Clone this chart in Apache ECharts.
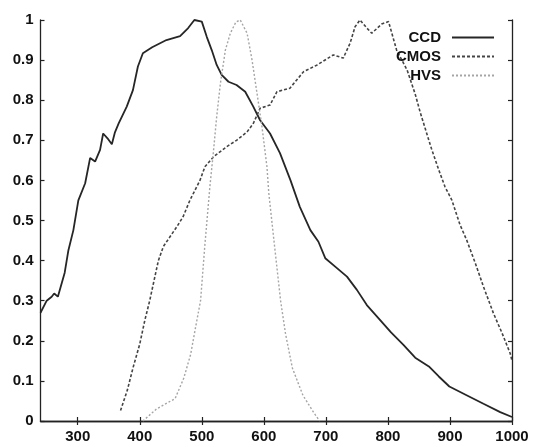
<!DOCTYPE html>
<html>
<head>
    <meta charset="UTF-8">
    <title>CCD CMOS HVS</title>
    <script src="https://cdn.jsdelivr.net/npm/echarts@6.0.0/dist/echarts.min.js"></script>
    <style>
        html, body { margin: 0; padding: 0; background: #fff; }
    </style>
</head>
<body>
<div id="main" style="width:533px;height:447px;"></div>
<script>
// wavelength (nm) / response readings
var ccdX = [240,250,258,262,268,279,285,293,301,312,320,328,336,341,348,355,360,366,379,389,397,405,420,443,465,478,488,500,508,516,524,532,543,556,570,583,594,610,626,643,658,675,688,699,715,734,750,766,785,805,825,844,866,882,899,926,954,981,1000];
var ccdY = [0.27,0.30,0.31,0.318,0.31,0.37,0.426,0.476,0.55,0.593,0.656,0.647,0.676,0.717,0.705,0.69,0.72,0.742,0.784,0.825,0.884,0.917,0.932,0.95,0.96,0.98,1.0,0.996,0.958,0.925,0.888,0.863,0.846,0.838,0.821,0.784,0.75,0.717,0.668,0.60,0.534,0.476,0.447,0.406,0.385,0.36,0.327,0.289,0.256,0.221,0.19,0.158,0.136,0.111,0.086,0.065,0.043,0.022,0.01];

var cmosX = [369,380,389,400,408,416,422,430,438,449,460,470,481,497,505,519,540,556,573,583,594,610,621,642,664,686,712,728,739,747,755,766,774,790,801,814,831,844,852,860,870,882,892,903,916,927,941,954,970,984,997,1000];
var cmosY = [0.026,0.077,0.132,0.192,0.25,0.30,0.343,0.40,0.435,0.46,0.485,0.51,0.551,0.60,0.634,0.659,0.684,0.70,0.721,0.742,0.78,0.788,0.821,0.83,0.871,0.888,0.913,0.905,0.942,0.983,1.0,0.98,0.967,0.99,0.996,0.925,0.875,0.815,0.77,0.73,0.68,0.626,0.584,0.551,0.49,0.451,0.393,0.335,0.269,0.219,0.169,0.15];

var hvsX = [405,427,457,471,482,490,498,505,513,519,524,530,538,546,555,562,573,581,589,597,605,608,617,627,635,646,663,680,690];
var hvsY = [0,0.03,0.056,0.107,0.166,0.234,0.30,0.44,0.584,0.676,0.759,0.842,0.925,0.967,0.995,1.0,0.967,0.90,0.817,0.734,0.634,0.568,0.44,0.30,0.217,0.132,0.064,0.022,0];

var xTicks = [300,400,500,600,700,800,900,1000];
var yTicks = [0,0.1,0.2,0.3,0.4,0.5,0.6,0.7,0.8,0.9,1];

function zip(xs, ys){
    var out = [];
    for (var i = 0; i < xs.length; i++) {
        out.push([xs[i], ys[i]]);
    }
    return out;
}

var chart = echarts.init(document.getElementById('main'));

var labelFont = {
    color: '#111',
    fontFamily: 'Liberation Sans, Arial, sans-serif',
    fontWeight: 'bold',
    fontSize: 15
};
var frameLine = { show: true, lineStyle: { color: '#222', width: 1.3 } };
var innerTick = { show: true, inside: true, length: 4, lineStyle: { color: '#222', width: 1.2 } };
var xTick = { show: true, inside: true, length: 4, customValues: xTicks, lineStyle: { color: '#222', width: 1.2 } };

chart.setOption({
    backgroundColor: '#fff',
    animation: false,
    grid: {
        left: 40.5,
        right: 21,
        top: 20,
        bottom: 26
    },
    legend: {
        orient: 'vertical',
        right: 38,
        top: 30,
        padding: 0,
        align: 'right',
        itemWidth: 42,
        itemHeight: 12,
        itemGap: 4,
        itemStyle: { opacity: 0 },
        textStyle: {
            color: '#111',
            fontFamily: 'Liberation Sans, Arial, sans-serif',
            fontWeight: 'bold',
            fontSize: 15,
            lineHeight: 14,
            padding: [0, 6, 0, 0]
        },
        data: ['CCD', 'CMOS', 'HVS']
    },
    xAxis: [
        {
            type: 'value',
            min: 240,
            max: 1000,
            axisLine: frameLine,
            axisTick: xTick,
            splitLine: { show: false },
            axisLabel: {
                margin: 8,
                customValues: xTicks,
                color: labelFont.color,
                fontFamily: labelFont.fontFamily,
                fontWeight: labelFont.fontWeight,
                fontSize: labelFont.fontSize,
                formatter: function (v) { return String(v); }
            }
        },
        {
            type: 'value',
            position: 'top',
            min: 240,
            max: 1000,
            axisLine: frameLine,
            axisTick: xTick,
            splitLine: { show: false },
            axisLabel: { show: false }
        }
    ],
    yAxis: [
        {
            type: 'value',
            min: 0,
            max: 1,
            interval: 0.1,
            axisLine: frameLine,
            axisTick: innerTick,
            splitLine: { show: false },
            axisLabel: {
                margin: 7,
                customValues: yTicks,
                color: labelFont.color,
                fontFamily: labelFont.fontFamily,
                fontWeight: labelFont.fontWeight,
                fontSize: labelFont.fontSize,
                formatter: function (v) {
                    return String(Math.round(v * 10) / 10);
                }
            }
        },
        {
            type: 'value',
            position: 'right',
            min: 0,
            max: 1,
            interval: 0.1,
            axisLine: frameLine,
            axisTick: innerTick,
            splitLine: { show: false },
            axisLabel: { show: false }
        }
    ],
    series: [
        {
            name: 'CCD',
            type: 'line',
            symbol: 'none',
            color: '#262626',
            lineStyle: { color: '#262626', width: 1.8 },
            data: zip(ccdX, ccdY)
        },
        {
            name: 'CMOS',
            type: 'line',
            symbol: 'none',
            color: '#444',
            lineStyle: { color: '#444', width: 1.6, type: [3, 2] },
            data: zip(cmosX, cmosY)
        },
        {
            name: 'HVS',
            type: 'line',
            symbol: 'none',
            color: '#a5a5a5',
            lineStyle: { color: '#a5a5a5', width: 1.4, type: [2, 2] },
            data: zip(hvsX, hvsY)
        }
    ]
});
</script>
</body>
</html>
